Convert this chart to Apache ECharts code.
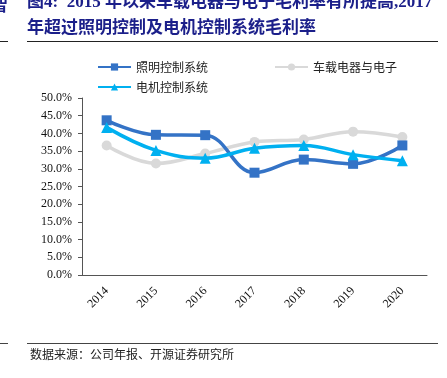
<!DOCTYPE html>
<html>
<head>
<meta charset="utf-8">
<style>
  html, body { margin: 0; padding: 0; background: #fff; }
  #main { width: 447px; height: 378px; }
</style>
<script src="https://cdn.jsdelivr.net/npm/echarts@6/dist/echarts.min.js"></script>
</head>
<body>
<div id="main"></div>
<script>
// 年份
var years = ['2014', '2015', '2016', '2017', '2018', '2019', '2020'];
// 毛利率(%)
var lightCtrl = [43.7, 39.6, 39.5, 28.9, 32.6, 31.4, 36.6];   // 照明控制系统
var carElec = [36.6, 31.5, 34.3, 37.6, 38.3, 40.5, 39.0];     // 车载电器与电子
var motorCtrl = [41.7, 35.2, 33.0, 35.8, 36.6, 34.0, 32.3];   // 电机控制系统
var seriesNames = ['照明控制系统', '车载电器与电子', '电机控制系统'];
var colors = ['#3473C6', '#D9D9D9', '#00B0F0'];

var titleColor = '#1B1F8A';
var cjk = '"Noto Sans CJK SC", "Liberation Serif", serif';
var serifCjk = '"Liberation Serif", "Noto Sans CJK SC", serif';

var myChart = echarts.init(document.getElementById('main'));

function legendAt(name, left, top) {
    return {
        data: [name],
        left: left,
        top: top,
        itemWidth: 33,
        itemHeight: 9,
        textStyle: { fontFamily: cjk, fontSize: 12, color: '#222' },
        selectedMode: false
    };
}

function lineSeries(idx, data, symbol, size, z) {
    return {
        name: seriesNames[idx],
        type: 'line',
        data: data,
        smooth: 0.4,
        symbol: symbol,
        symbolSize: size,
        itemStyle: { color: colors[idx] },
        lineStyle: { width: 3.5, color: colors[idx] },
        z: z
    };
}

var option = {
    animation: false,
    legend: [
        legendAt(seriesNames[0], 92, 56),
        legendAt(seriesNames[1], 269, 56),
        legendAt(seriesNames[2], 92, 76)
    ],
    grid: { left: 82, right: 20, top: 98, bottom: 103 },
    xAxis: {
        type: 'category',
        data: years,
        boundaryGap: true,
        axisLine: { lineStyle: { color: '#555', width: 1 } },
        axisTick: { inside: true, length: 4, lineStyle: { color: '#555' } },
        axisLabel: {
            rotate: 45,
            margin: 14,
            color: '#111',
            fontFamily: '"Liberation Serif", serif',
            fontSize: 12
        }
    },
    yAxis: {
        type: 'value',
        min: 0,
        max: 50,
        interval: 5,
        axisLine: { show: true, lineStyle: { color: '#555', width: 1 } },
        axisTick: { show: true, length: 4, lineStyle: { color: '#555' } },
        splitLine: { show: false },
        axisLabel: {
            margin: 10,
            color: '#111',
            fontFamily: '"Liberation Serif", serif',
            fontSize: 12,
            formatter: function (value) {
                return value.toFixed(1) + '%';
            }
        }
    },
    series: [
        lineSeries(1, carElec, 'circle', 10, 2),
        lineSeries(0, lightCtrl, 'rect', 10, 3),
        lineSeries(2, motorCtrl, 'triangle', 11, 4)
    ],
    graphic: [
        // 被裁掉的左侧文字
        { type: 'text', left: -9, top: -4, style: { text: '智', font: 'bold 17px ' + cjk, fill: titleColor } },
        { type: 'line', shape: { x1: 0, y1: 41.5, x2: 8, y2: 41.5 }, style: { stroke: '#222', lineWidth: 1 } },
        { type: 'line', shape: { x1: 0, y1: 343.5, x2: 8, y2: 343.5 }, style: { stroke: '#444', lineWidth: 1 } },
        // 标题
        { type: 'text', left: 27, top: -6, style: { text: '图4:  2015 年以来车载电器与电子毛利率有所提高,2017', font: 'bold 17px ' + serifCjk, fill: titleColor } },
        { type: 'text', left: 27, top: 18, style: { text: '年超过照明控制及电机控制系统毛利率', font: 'bold 17px ' + cjk, fill: titleColor } },
        { type: 'line', shape: { x1: 27, y1: 41.5, x2: 438, y2: 41.5 }, style: { stroke: '#222', lineWidth: 1 } },
        // 数据来源
        { type: 'line', shape: { x1: 27, y1: 343.5, x2: 438, y2: 343.5 }, style: { stroke: '#444', lineWidth: 1 } },
        { type: 'text', left: 30, top: 348, style: { text: '数据来源：公司年报、开源证券研究所', font: '12px ' + cjk, fill: '#222' } }
    ]
};
myChart.setOption(option);
</script>
</body>
</html>
